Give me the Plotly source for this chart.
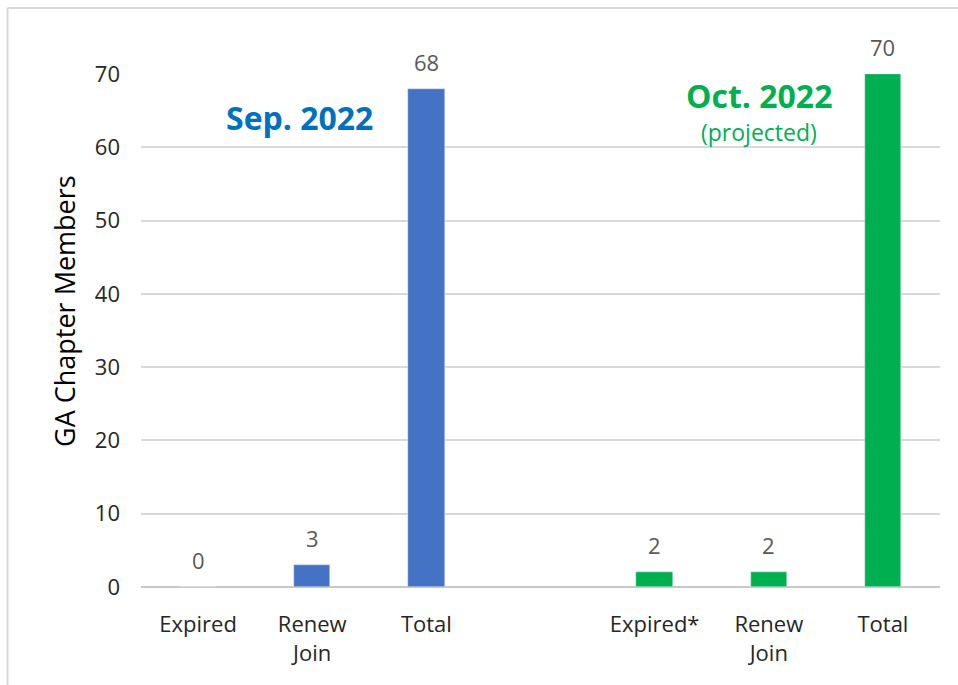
import plotly.graph_objects as go

categories = ["Expired", "Renew<br>Join", "Total", "", "Expired*", "Renew<br>Join", "Total"]
sep_x = [0, 1, 2]
sep_values = [0, 3, 68]
oct_x = [4, 5, 6]
oct_values = [2, 2, 70]
y_ticks = [0, 10, 20, 30, 40, 50, 60, 70]

W, H = 958, 685
L, R, T, B = 141, 18, 74, 98
pw, ph = W - L - R, H - T - B

font_family = "Open Sans, Noto Sans, sans-serif"

fig = go.Figure()
fig.add_trace(go.Bar(x=sep_x, y=sep_values, marker_color="#4472c4", width=0.32, showlegend=False,
                     hoverinfo="skip"))
fig.add_trace(go.Bar(x=oct_x, y=oct_values, marker_color="#00b050", width=0.32, showlegend=False,
                     hoverinfo="skip"))

annotations = []
for xs, vs in ((sep_x, sep_values), (oct_x, oct_values)):
    for x, v in zip(xs, vs):
        annotations.append(dict(x=x, y=v, xref="x", yref="y", text=str(v), showarrow=False,
                                yanchor="bottom", yshift=10,
                                font=dict(size=22, color="#595959", family=font_family)))

annotations += [
    dict(x=0.89, y=64.1, xref="x", yref="y", text="<b>Sep. 2022</b>", showarrow=False,
         font=dict(size=32, color="#0070c0", family=font_family)),
    dict(x=4.91, y=67.0, xref="x", yref="y", text="<b>Oct. 2022</b>", showarrow=False,
         font=dict(size=32, color="#00b050", family=font_family)),
    dict(x=4.91, y=62.1, xref="x", yref="y", text="(projected)", showarrow=False,
         font=dict(size=23, color="#00b050", family=font_family)),
    dict(x=(64 - L) / pw, y=(H - B - 311) / ph, xref="paper", yref="paper",
         xanchor="center", yanchor="middle",
         text="GA Chapter Members", textangle=-90, showarrow=False,
         font=dict(size=27, color="#000000", family=font_family)),
]

fig.update_layout(
    width=W, height=H,
    margin=dict(l=L, r=R, t=T, b=B),
    paper_bgcolor="white", plot_bgcolor="white",
    font=dict(family=font_family, color="#000000"),
    bargap=0,
    xaxis=dict(range=[-0.5, 6.5], tickmode="array", tickvals=list(range(7)), ticktext=categories,
               showgrid=False, zeroline=False, showline=False, ticks="",
               ticklabelstandoff=22,
               tickfont=dict(size=22, color="#262626")),
    yaxis=dict(range=[0, 70], tickvals=y_ticks, showgrid=True, gridcolor="#d9d9d9", gridwidth=1.5,
               zeroline=True, zerolinecolor="#c8c8c8", zerolinewidth=2,
               tickfont=dict(size=22, color="#262626"), ticks="", ticklabelstandoff=20),
    annotations=annotations,
    shapes=[
        dict(type="line", xref="paper", yref="paper",
             x0=(7.5 - L) / pw, x1=(7.5 - L) / pw,
             y0=(H - B - 690) / ph, y1=(H - B - 8) / ph,
             line=dict(color="#d9d9d9", width=2), layer="below"),
        dict(type="line", xref="paper", yref="paper",
             x0=(7.5 - L) / pw, x1=(965 - L) / pw,
             y0=(H - B - 8) / ph, y1=(H - B - 8) / ph,
             line=dict(color="#d9d9d9", width=2), layer="below"),
    ],
)

fig.write_html("out.html", config={"displayModeBar": False},
               post_script="document.body.style.margin='0';")
